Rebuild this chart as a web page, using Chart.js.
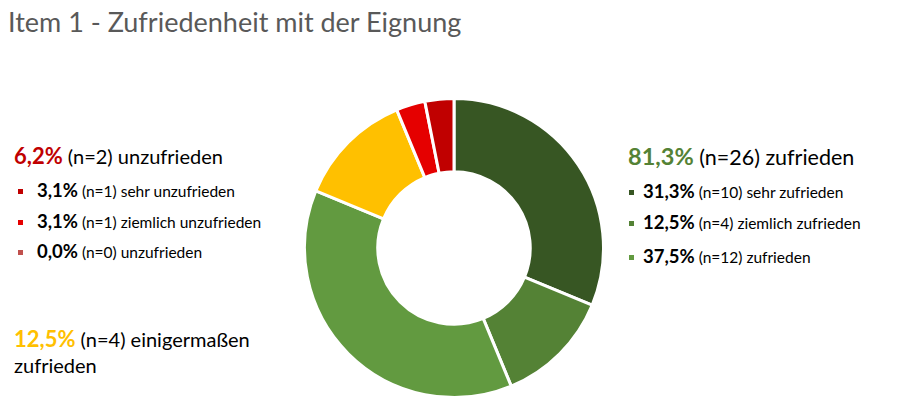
<!DOCTYPE html>
<html>
<head>
<meta charset="utf-8">
<script src="https://cdn.jsdelivr.net/npm/chart.js@4"></script>
<style>
  body { margin: 0; background: #fff; font-family: Lato, "Open Sans", sans-serif; }
  #page { position: relative; width: 907px; height: 398px; overflow: hidden; }
  #title { position: absolute; left: 8px; top: 5px; font-size: 27px; color: #595959; white-space: nowrap; }
  #chartBox { position: absolute; left: 303px; top: 97px; width: 302px; height: 302px; }
  .grp { position: absolute; white-space: nowrap; color: #000; }
  .head { font-size: 20px; line-height: 26px; }
  .head .pct { font-size: 22px; font-weight: bold; }
  #rightGrp .head { font-size: 21.5px; }
  #rightGrp .head .pct { font-size: 23.5px; }
  .item { position: relative; font-size: 15.5px; line-height: 29.5px; padding-left: 23px; }
  .item b { font-size: 18.5px; }
  .item i { position: absolute; left: 4px; top: 13px; width: 5px; height: 5px; }
  #rightGrp .item { padding-left: 15px; }
  #rightGrp .item i { left: 1px; }
  .head + .item { margin-top: 7px; }
  #rightGrp .item:last-child { margin-top: 4px; }
</style>
</head>
<body>
<div id="page">
  <div id="title">Item 1 - Zufriedenheit mit der Eignung</div>
  <div id="chartBox"><canvas id="donut"></canvas></div>
  <div class="grp" id="leftGrp" style="left:14px; top:143px;"></div>
  <div class="grp" id="rightGrp" style="left:628px; top:143px;"></div>
  <div class="grp" id="midGrp" style="left:14px; top:326px;"></div>
</div>
<script>
// answer categories, clockwise from the top
const categories = [
  'sehr zufrieden', 'ziemlich zufrieden', 'zufrieden', 'einigermaßen zufrieden',
  'unzufrieden', 'ziemlich unzufrieden', 'sehr unzufrieden'
];
const counts = [10, 4, 12, 4, 0, 1, 1];
const percents = ['31,3%', '12,5%', '37,5%', '12,5%', '0,0%', '3,1%', '3,1%'];
const colors = ['#375623', '#548235', '#629a40', '#ffc000', '#c0504d', '#e50000', '#c00000'];

// summary groups
const groupNames = ['zufrieden', 'einigermaßen zufrieden', 'unzufrieden'];
const groupPercents = ['81,3%', '12,5%', '6,2%'];
const groupCounts = [26, 4, 2];
const groupColors = ['#548235', '#ffc000', '#c00000'];

new Chart(document.getElementById('donut'), {
  type: 'doughnut',
  data: {
    labels: categories,
    datasets: [{
      data: counts,
      backgroundColor: colors,
      borderColor: '#ffffff',
      borderWidth: 3
    }]
  },
  options: {
    responsive: true,
    maintainAspectRatio: false,
    animation: false,
    cutout: '51%',
    layout: { padding: 0 },
    plugins: {
      legend: { display: false },
      tooltip: { enabled: false }
    }
  }
});

function head(g, label) {
  return '<div class="head"><span class="pct" style="color:' + groupColors[g] + '">' +
    groupPercents[g] + '</span> (n=' + groupCounts[g] + ') ' + label + '</div>';
}
function item(i) {
  return '<div class="item"><i style="background:' + colors[i] + '"></i><b>' + percents[i] +
    '</b> (n=' + counts[i] + ') ' + categories[i] + '</div>';
}

document.getElementById('rightGrp').innerHTML = head(0, groupNames[0]) + item(0) + item(1) + item(2);
document.getElementById('leftGrp').innerHTML = head(2, groupNames[2]) + item(6) + item(5) + item(4);
document.getElementById('midGrp').innerHTML = head(1, 'einigermaßen<br>zufrieden');
</script>
</body>
</html>
